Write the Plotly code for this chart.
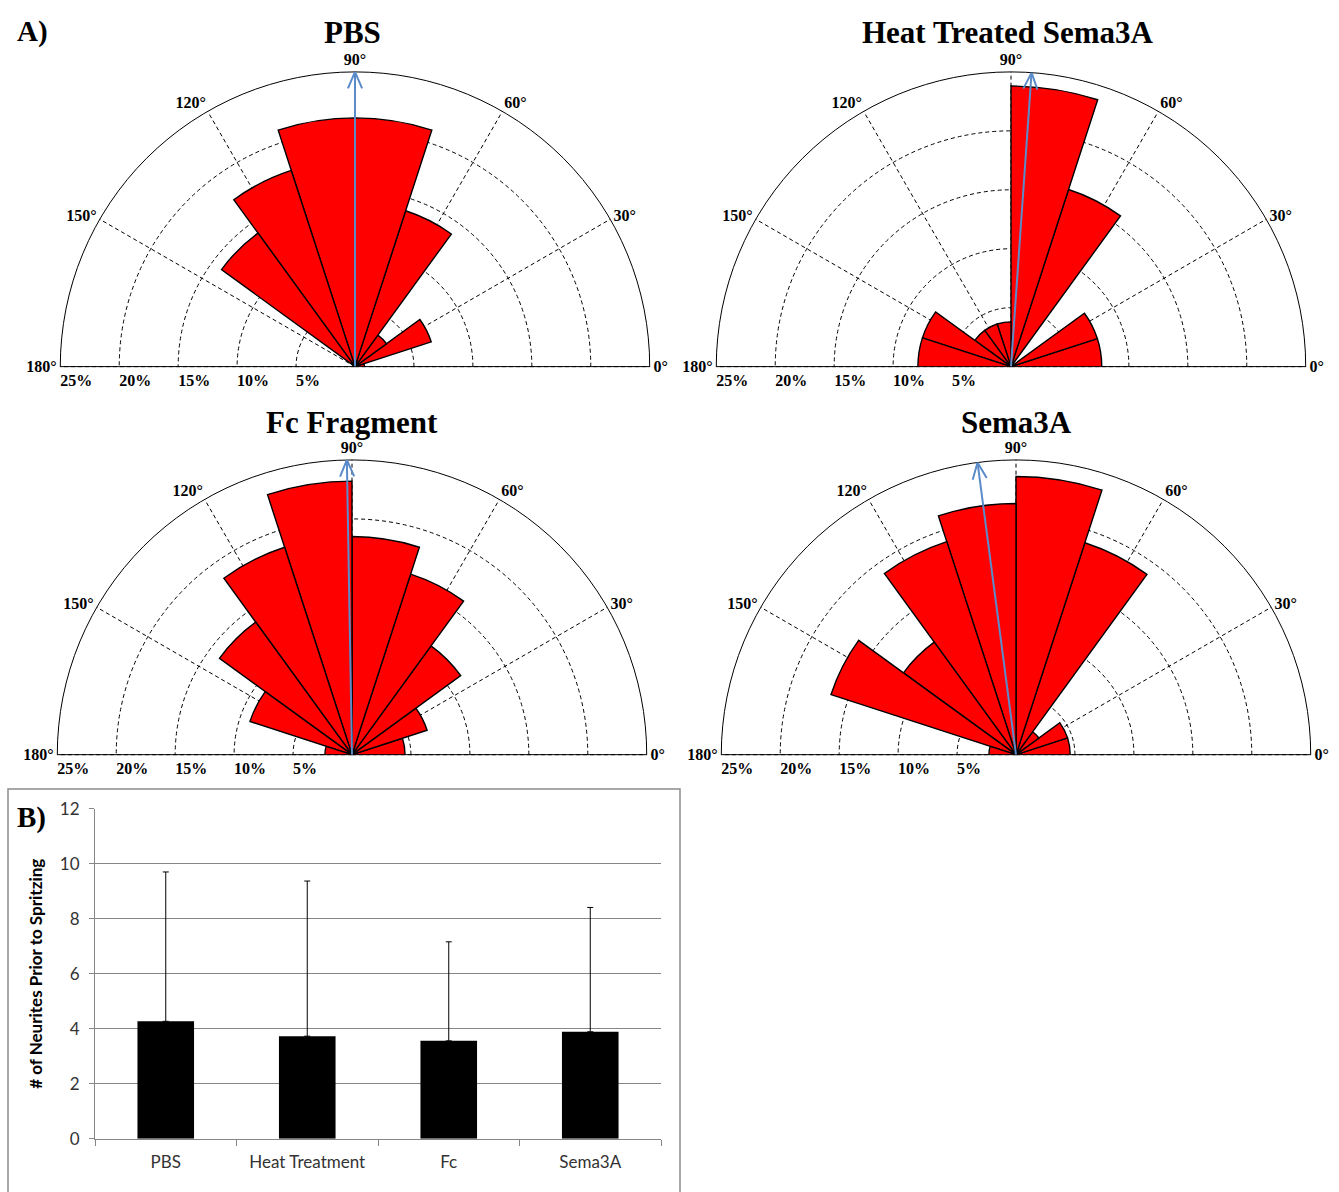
import math
import plotly.graph_objects as go

# ---- Rose diagrams: percentage of neurites per 18-degree bin (0-180 deg) ----
bin_centers = [9, 27, 45, 63, 81, 99, 117, 135, 153, 171]
bin_width = 18

pbs_pct = [0.8, 6.8, 3.3, 13.9, 21.1, 21.1, 17.5, 14.0, 0.0, 0.0]
heat_pct = [7.7, 7.7, 0.0, 15.8, 23.8, 3.8, 3.8, 3.8, 7.9, 7.9]
fc_pct = [4.5, 6.7, 11.4, 16.1, 18.5, 23.2, 18.5, 13.9, 9.1, 2.3]
sema_pct = [4.6, 4.6, 2.4, 18.9, 23.6, 21.3, 19.0, 11.8, 16.5, 2.3]

# mean growth direction (degrees) for each condition
pbs_dir = 90.0
heat_dir = 86.0
fc_dir = 91.0
sema_dir = 97.5

panel_titles = ["PBS", "Heat Treated Sema3A", "Fc Fragment", "Sema3A"]

angle_ticks = [0, 30, 60, 90, 120, 150, 180]
angle_labels = [f"{a}°" for a in angle_ticks]
pct_ticks = [5, 10, 15, 20, 25]
pct_labels = [f"{p}%" for p in pct_ticks]

# ---- Bar chart: neurite counts before spritzing ----
conditions = ["PBS", "Heat Treatment", "Fc", "Sema3A"]
neurite_mean = [4.27, 3.73, 3.56, 3.89]
neurite_err = [5.43, 5.64, 3.60, 4.52]

W, H = 1339, 1192
SERIF = "Liberation Serif"
SANS = "Lato"
RED = "#FF0000"
ARROW = "#5B8BC9"


def px_x(a, b):
    return [a / W, b / W]


def px_y(top, bottom):
    return [(H - bottom) / H, (H - top) / H]


# polar plotting areas (left, right, top, bottom) in pixels
polar_boxes = [
    (55, 655, 62, 362),
    (711, 1311, 62, 362),
    (52, 652, 457, 757),
    (716, 1316, 457, 757),
]

fig = go.Figure()

datasets = [
    (pbs_pct, pbs_dir),
    (heat_pct, heat_dir),
    (fc_pct, fc_dir),
    (sema_pct, sema_dir),
]

RMAX = 25
for i, (vals, direction) in enumerate(datasets):
    sp = "polar" if i == 0 else f"polar{i + 1}"
    fig.add_trace(go.Barpolar(
        r=vals, theta=bin_centers, width=[bin_width] * len(vals),
        marker=dict(color=RED, line=dict(color="black", width=1.4)),
        subplot=sp, showlegend=False, hoverinfo="skip",
    ))
    # mean direction arrow shaft
    fig.add_trace(go.Scatterpolar(
        r=[0, RMAX], theta=[direction, direction], mode="lines",
        line=dict(color=ARROW, width=2), subplot=sp,
        showlegend=False, hoverinfo="skip",
    ))
    # open arrowhead at the tip
    back, side = 1.4, 0.6
    rb = math.hypot(RMAX - back, side)
    d = math.degrees(math.atan2(side, RMAX - back))
    fig.add_trace(go.Scatterpolar(
        r=[rb, RMAX, rb], theta=[direction + d, direction, direction - d],
        mode="lines", line=dict(color=ARROW, width=2), subplot=sp,
        showlegend=False, hoverinfo="skip",
    ))

tick_font = dict(family=SERIF, size=16, color="black", weight="bold")
for i, (l, r, t, b) in enumerate(polar_boxes):
    key = "polar" if i == 0 else f"polar{i + 1}"
    fig.layout[key] = dict(
        domain=dict(x=px_x(l, r), y=px_y(t, b)),
        sector=[0, 180],
        bgcolor="white",
        radialaxis=dict(
            range=[0, RMAX], tickmode="array", tickvals=pct_ticks,
            ticktext=pct_labels,
            angle=180, side="counterclockwise", tickangle=180,
            showline=False, ticks="",
            gridcolor="black", griddash="4px,3px", gridwidth=0.8,
            tickfont=tick_font, layer="below traces",
        ),
        angularaxis=dict(
            tickmode="array", tickvals=angle_ticks, ticktext=angle_labels,
            direction="counterclockwise", rotation=0,
            gridcolor="black", griddash="4px,3px", gridwidth=0.8,
            showline=True, linecolor="black", linewidth=1, ticks="",
            tickfont=tick_font, layer="below traces",
        ),
    )

# panel titles
title_pos = [(353, 22), (1008, 22), (352, 419), (1016, 419)]
for text, (x, y) in zip(panel_titles, title_pos):
    fig.add_annotation(
        text=text, x=x / W, y=(H - y) / H, xref="paper", yref="paper",
        showarrow=False, xanchor="center", yanchor="middle",
        font=dict(family=SERIF, size=31, color="black", weight="bold"),
    )

for text, (x, y) in [("A)", (15, 21)), ("B)", (15, 821))]:
    fig.add_annotation(
        text=text, x=x / W, y=(H - y) / H, xref="paper", yref="paper",
        showarrow=False, xanchor="left", yanchor="middle",
        font=dict(family=SERIF, size=29, color="black", weight="bold"),
    )

# bar chart
fig.add_trace(go.Bar(
    x=conditions, y=neurite_mean,
    marker=dict(color="black", line=dict(width=0)),
    error_y=dict(type="data", symmetric=False, array=neurite_err,
                 arrayminus=[0] * len(neurite_err),
                 color="black", thickness=1, width=3),
    width=0.4, showlegend=False, hoverinfo="skip",
    xaxis="x", yaxis="y",
))

fig.update_layout(
    xaxis=dict(
        domain=px_x(95, 661), showline=True, linecolor="#868686",
        ticks="outside", tickson="boundaries", ticklen=6, tickcolor="#868686",
        ticklabelstandoff=8,
        tickfont=dict(family=SANS, size=17, color="#333333"),
        showgrid=False, zeroline=False,
    ),
    yaxis=dict(
        domain=px_y(812, 1148), range=[0, 12], dtick=2,
        showline=True, linecolor="#868686", ticks="outside", ticklen=5,
        tickcolor="#868686", showgrid=True, gridcolor="#868686", gridwidth=1,
        zeroline=False, ticklabelstandoff=6,
        tickfont=dict(family=SANS, size=17, color="#333333"),
        title=dict(text="# of Neurites Prior to Spritzing", standoff=12,
                   font=dict(family=SANS, size=17, color="black", weight="bold")),
    ),
    shapes=[dict(
        type="rect", xref="paper", yref="paper",
        x0=8 / W, x1=680 / W, y0=-0.01, y1=(H - 792) / H,
        line=dict(color="#8c8c8c", width=1.5), fillcolor="rgba(0,0,0,0)",
    )],
    width=W, height=H,
    margin=dict(l=0, r=0, t=0, b=0),
    paper_bgcolor="white", plot_bgcolor="white",
)

fig.write_html("out.html")
